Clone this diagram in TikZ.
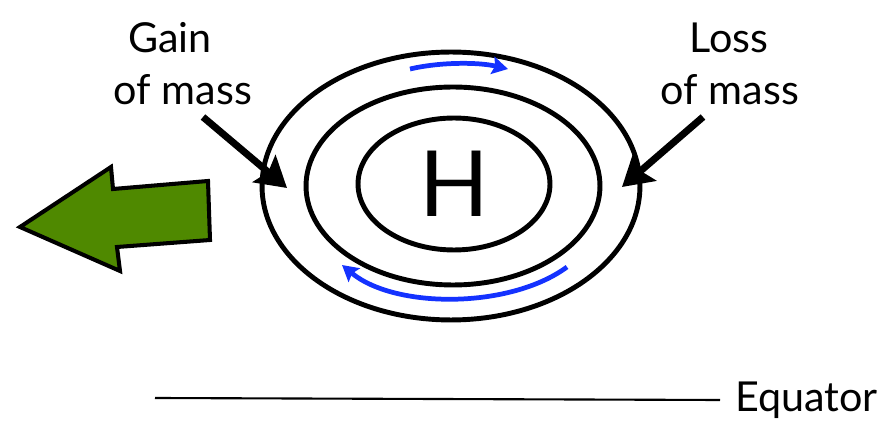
\documentclass[tikz,border=0pt]{standalone}
\usepackage{fontspec}
\setmainfont{Lato}
\usetikzlibrary{shapes.geometric,arrows.meta,positioning}
\definecolor{flowBlue}{RGB}{20,50,255}
\definecolor{driftGreen}{RGB}{79,137,0}

\begin{document}
\begin{tikzpicture}[x=0.02cm, y=-0.02cm,
    ring/.style={ellipse, draw=black, line width=2.8pt, inner sep=0pt},
    label/.style={font=\fontsize{23.5}{26}\selectfont, inner sep=0pt},
    massarrow/.style={line width=4pt, -{Stealth[length=17pt,width=20pt,inset=3pt]}},
    flow/.style={flowBlue, line width=2.7pt, -{Stealth[length=9pt,width=10pt,inset=1.5pt]}}]
    \useasboundingbox (0,0) rectangle (894,422);

    % pressure rings
    \node[ring, minimum width=7.56cm, minimum height=5.36cm] (outer) at (451,186) {};
    \node[ring, minimum width=5.88cm, minimum height=3.96cm] (middle) at (453,186) {};
    \node[ring, minimum width=3.84cm, minimum height=2.64cm] (inner) at (454,184)
        {\fontsize{52}{52}\selectfont H};

    % circulation
    \coordinate (topstart) at (410,69);
    \coordinate (topend) at (508,69);
    \coordinate (botstart) at (567,267);
    \coordinate (botend) at (342,265);
    \draw[flow] (topstart) .. controls (440,62) and (478,62) .. (topend);
    \draw[flow] (botstart) .. controls (510,309) and (395,309) .. (botend);

    % mass labels
    \node[label] (gain) at (170,38) {Gain};
    \node[label] (gainof) at (183,90) {of mass};
    \node[label] (loss) at (729,38) {Loss};
    \node[label] (lossof) at (730,90) {of mass};

    \coordinate (gaintail) at (203,117);
    \coordinate (gaintip) at (287,188);
    \coordinate (losstail) at (703,117);
    \coordinate (losstip) at (622,187);
    \draw[massarrow] (gaintail) -- (gaintip);
    \draw[massarrow] (losstail) -- (losstip);

    % drift
    \filldraw[fill=driftGreen, draw=black, line width=2.3pt, line join=miter]
        (20,227) -- (111,167) -- (113,189) -- (208,181) -- (210,240)
        -- (117,247) -- (120,271) -- cycle;

    % equator
    \node[label, anchor=west] (equator) at (735,400) {Equator};
    \coordinate (eqstart) at (155,398);
    \draw[line width=1.2pt] (eqstart) -- (equator.west -| 720,0);
\end{tikzpicture}
\end{document}
